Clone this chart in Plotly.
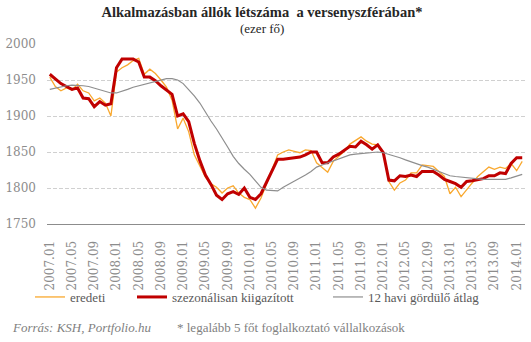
import plotly.graph_objects as go

# Monthly categories 2007.01 .. 2014.02
years = list(range(2007, 2015))
months = [f"{y}.{m:02d}" for y in years for m in range(1, 13)][:86]

# Employees in the competitive sector (thousand persons)
eredeti = [
    1954, 1941, 1935, 1939, 1936, 1944, 1935, 1932, 1921, 1925, 1918, 1900,
    1961, 1967, 1971, 1977, 1980, 1958, 1965, 1959, 1950, 1940, 1922, 1882,
    1897, 1878, 1846, 1830, 1815, 1806, 1801, 1793, 1800, 1803, 1793, 1787,
    1784, 1772, 1786, 1806, 1825, 1846, 1850, 1853, 1851, 1849, 1853, 1852,
    1835, 1828, 1822, 1837, 1844, 1851, 1861, 1866, 1871, 1865, 1861, 1860,
    1848, 1809, 1797, 1807, 1811, 1821, 1821, 1832, 1831, 1830, 1823, 1816,
    1792, 1801, 1788, 1798, 1807, 1816, 1823, 1829, 1826, 1829, 1827, 1834,
    1824, 1837,
]

szezonalis = [
    1958, 1952, 1945, 1941, 1937, 1939, 1925, 1924, 1913, 1920, 1915, 1917,
    1967, 1979, 1979, 1979, 1975, 1954, 1954, 1949, 1942, 1936, 1930, 1900,
    1903, 1892, 1862, 1838, 1818, 1805, 1790, 1784, 1792, 1795, 1791, 1800,
    1787, 1784, 1792, 1808, 1824, 1840, 1840, 1841, 1842, 1843, 1846, 1850,
    1850, 1835, 1835, 1843, 1847, 1852, 1858, 1857, 1865, 1860, 1854, 1860,
    1849, 1811, 1810, 1817, 1816, 1818, 1816, 1823, 1823, 1823, 1818, 1812,
    1809, 1806, 1801, 1809, 1810, 1812, 1813, 1817, 1817, 1821, 1820, 1834,
    1842, 1842,
]

atlag12 = [
    1937, 1939, 1941, 1942, 1943, 1943, 1942, 1941, 1939, 1937, 1934, 1932,
    1932, 1934, 1937, 1940, 1942, 1944, 1946, 1948, 1951, 1952, 1952, 1950,
    1945, 1937, 1928, 1918, 1905, 1893, 1882, 1870, 1857, 1844, 1834, 1826,
    1819, 1810, 1801, 1797, 1796, 1796, 1801, 1805, 1809, 1814, 1818, 1823,
    1829, 1832, 1835, 1838, 1841, 1844, 1846, 1847, 1848, 1849, 1850, 1850,
    1849, 1847, 1845, 1842, 1839, 1836, 1834, 1831, 1829, 1826, 1823, 1820,
    1817, 1816, 1815, 1814, 1813, 1813, 1812, 1812, 1812, 1812, 1812, 1814,
    1816, 1819,
]

x_ticks = months[::4]
y_ticks = [1750, 1800, 1850, 1900, 1950, 2000]

SERIF = "Liberation Serif"
TXT = "#595959"

fig = go.Figure()
fig.add_trace(go.Scatter(x=months, y=eredeti, mode="lines", name="eredeti",
                         line=dict(color="#F9A82E", width=1.3), legend="legend",
                         hoverinfo="skip"))
fig.add_trace(go.Scatter(x=months, y=szezonalis, mode="lines",
                         name="szezonálisan kiigazított",
                         line=dict(color="#C00000", width=3), legend="legend2",
                         hoverinfo="skip"))
fig.add_trace(go.Scatter(x=months, y=atlag12, mode="lines",
                         name="12 havi gördülő átlag",
                         line=dict(color="#8E8E8E", width=1.2), legend="legend3",
                         hoverinfo="skip"))

leg_common = dict(xref="container", yref="container", xanchor="left",
                  yanchor="middle", orientation="h", bgcolor="rgba(0,0,0,0)",
                  font=dict(family=SERIF, size=13, color=TXT), itemwidth=30)
leg_y = 1 - 297 / 342

fig.update_layout(
    width=531, height=342,
    margin=dict(l=47, r=6, t=44, b=118, autoexpand=False),
    plot_bgcolor="white", paper_bgcolor="white",
    showlegend=True,
    title=dict(text="<b>Alkalmazásban állók létszáma  a versenyszférában*</b>",
               x=262 / 531, xanchor="center", xref="container",
               y=1 - 12 / 342, yanchor="middle", yref="container",
               font=dict(family=SERIF, size=14.5, color="#262626")),
    legend=dict(x=30 / 531, y=leg_y, **leg_common),
    legend2=dict(x=132 / 531, y=leg_y, **leg_common),
    legend3=dict(x=328 / 531, y=leg_y, **leg_common),
    xaxis=dict(type="category", range=[-0.5, len(months) - 0.5],
               tickmode="array", tickvals=x_ticks, ticktext=x_ticks,
               tickangle=-90, showgrid=False, showline=True,
               linecolor="#8C8C8C", linewidth=1, ticks="",
               ticklabelstandoff=11, automargin=False,
               tickfont=dict(family="DejaVu Serif", size=12, color="#8C8C8C")),
    yaxis=dict(range=[1750, 2000], tickmode="array", tickvals=y_ticks,
               showgrid=True, gridcolor="#D0D0D0", griddash="4px,2px",
               gridwidth=1, zeroline=False, showline=False, ticks="",
               ticklabelstandoff=10, automargin=False,
               tickfont=dict(family="DejaVu Serif", size=12, color="#8C8C8C")),
    annotations=[
        dict(text="(ezer fő)", xref="paper", yref="paper",
             x=(262 - 47) / 478, y=(224 - 28) / 180, showarrow=False,
             xanchor="center", yanchor="middle",
             font=dict(family=SERIF, size=13, color="#262626")),
        dict(text="<i>Forrás: KSH, Portfolio.hu</i>", xref="paper", yref="paper",
             x=(10 - 47) / 478, y=(224 - 327) / 180, showarrow=False,
             xanchor="left", yanchor="middle",
             font=dict(family=SERIF, size=13, color="#7F7F7F")),
        dict(text="* legalább 5 főt foglalkoztató vállalkozások",
             xref="paper", yref="paper",
             x=(175 - 47) / 478, y=(224 - 327) / 180, showarrow=False,
             xanchor="left", yanchor="middle",
             font=dict(family=SERIF, size=13, color="#7F7F7F")),
    ],
)

fig.write_html("out.html", config={"displayModeBar": False})
